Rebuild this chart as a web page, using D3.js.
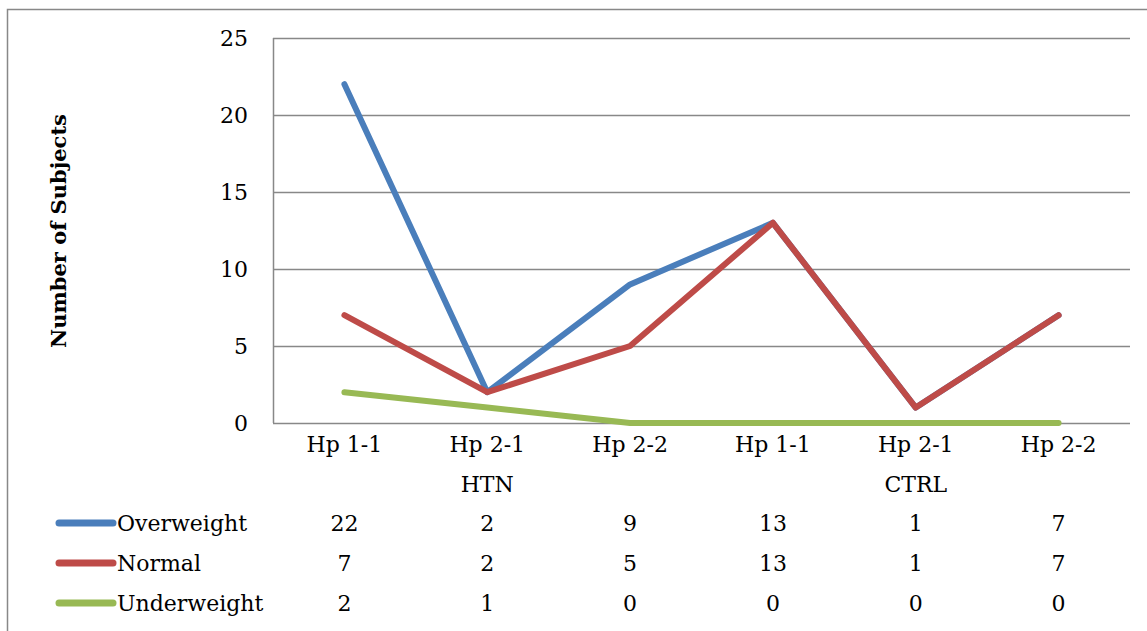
<!DOCTYPE html>
<html><head><meta charset="utf-8">
<script src="https://cdn.jsdelivr.net/npm/d3@7"></script>
<style>body{margin:0;background:#fff}svg{display:block}text{font-family:"DejaVu Serif",serif}</style>
</head><body>
<svg id="c" width="1147" height="631"></svg>
<script>
const categories = ["Hp 1-1","Hp 2-1","Hp 2-2","Hp 1-1","Hp 2-1","Hp 2-2"];
const groups = ["HTN","CTRL"];
const seriesNames = ["Overweight","Normal","Underweight"];
const overweight = [22,2,9,13,1,7];
const normal = [7,2,5,13,1,7];
const underweight = [2,1,0,0,0,0];
const colors = ["#4A7EBB","#BE4B48","#98B954"];
const yTicks = [0,5,10,15,20,25];

const series = [overweight, normal, underweight];
const svg = d3.select("#c");
const L=273,R=1130,T=38,B=423;
const x = d3.scaleBand().domain(d3.range(categories.length)).range([L,R]);
const y = d3.scaleLinear().domain([0,25]).range([B,T]);
const fs = 22;

// outer border
svg.append("rect").attr("x",7.5).attr("y",9.5).attr("width",1200).attr("height",700)
  .attr("fill","none").attr("stroke","#888").attr("stroke-width",1.5);

// gridlines
svg.append("g").selectAll("line").data(yTicks).join("line")
  .attr("x1",L).attr("x2",R).attr("y1",d=>Math.round(y(d))+0.5).attr("y2",d=>Math.round(y(d))+0.5)
  .attr("stroke","#888").attr("stroke-width",1.5);
// y axis line
svg.append("line").attr("x1",L+0.5).attr("x2",L+0.5).attr("y1",T).attr("y2",B).attr("stroke","#888").attr("stroke-width",1.5);

// y tick labels
svg.append("g").selectAll("text").data(yTicks).join("text")
  .attr("x",248).attr("y",d=>y(d)).attr("dy","0.35em").attr("text-anchor","end")
  .attr("font-size",fs).text(d=>d);

// y title
svg.append("text").attr("transform","translate(66,231) rotate(-90)")
  .attr("text-anchor","middle").attr("font-size",21).attr("font-weight","bold").text("Number of Subjects");

// category labels
const cx = i => x(i)+x.bandwidth()/2;
svg.append("g").selectAll("text").data(categories).join("text")
  .attr("x",(d,i)=>cx(i)).attr("y",452).attr("text-anchor","middle").attr("font-size",fs).text(d=>d);
svg.append("g").selectAll("text").data(groups).join("text")
  .attr("x",(d,i)=>cx(i*3+1)).attr("y",492).attr("text-anchor","middle").attr("font-size",fs).text(d=>d);

// lines
const line = d3.line().x((d,i)=>cx(i)).y(d=>y(d));
svg.append("g").selectAll("path").data(series).join("path")
  .attr("d",line).attr("fill","none").attr("stroke",(d,i)=>colors[i])
  .attr("stroke-width",6).attr("stroke-linecap","round").attr("stroke-linejoin","round");

// data table
const rowY = [523,563,603];
const rows = svg.append("g").selectAll("g").data(series).join("g");
rows.append("line").attr("x1",59).attr("x2",113).attr("y1",(d,i)=>rowY[i]).attr("y2",(d,i)=>rowY[i])
  .attr("stroke",(d,i)=>colors[i]).attr("stroke-width",7).attr("stroke-linecap","round");
rows.append("text").attr("x",117).attr("y",(d,i)=>rowY[i]).attr("dy","0.35em").attr("font-size",fs)
  .text((d,i)=>seriesNames[i]);
rows.each(function(d,ri){
  d3.select(this).selectAll("text.v").data(d).join("text").attr("class","v")
    .attr("x",(v,i)=>cx(i)).attr("y",rowY[ri]).attr("dy","0.35em").attr("text-anchor","middle")
    .attr("font-size",fs).text(v=>v);
});
</script>
</body></html>
